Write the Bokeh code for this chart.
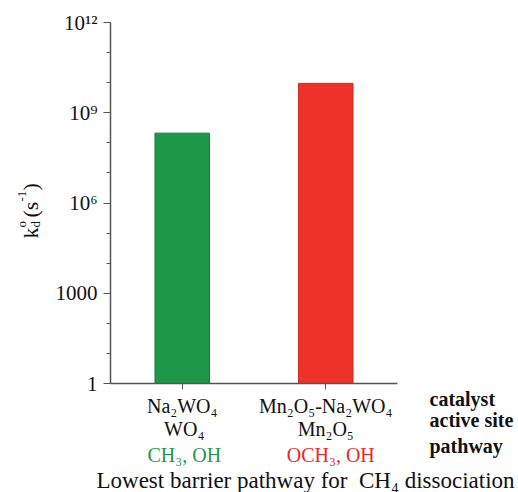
import math
from bokeh.plotting import figure
from bokeh.models import ColumnDataSource, FixedTicker, Label, Range1d
from bokeh.embed import file_html
from bokeh.resources import INLINE

# ---- data ----
catalysts = ["Na₂WO₄", "Mn₂O₅-Na₂WO₄"]
active_sites = ["WO₄", "Mn₂O₅"]
pathways = ["CH₃, OH", "OCH₃, OH"]
rates = [2.1e8, 9.5e9]
bar_colors = ["#1f9748", "#ee3229"]
bar_edges = ["#1b7d3c", "#c92c25"]
text_colors = ["#1f9748", "#e8282a"]
row_names = ["catalyst", "active site", "pathway"]
y_ticks = [1, 1000, 1000000, 1000000000, 1000000000000]
y_tick_labels = ["1", "1000", "10⁶", "10⁹", "10¹²"]
y_minor = [10 ** k for k in range(13)]
x_title = "Lowest barrier pathway for \u00a0CH₄ dissociation"

SERIF = "Liberation Serif"
AX = "#555555"

W, H = 518, 492
# axes box in page pixels
L, R, T, B = 110, 397, 22, 383
n = len(catalysts)
xpos = [i + 0.5 for i in range(n)]
ymin, ymax = 1, 1e12

# the plotting frame covers the whole canvas; axes are pinned at (0, 1)
ux = (R - L) / n
dec = (B - T) / math.log10(ymax / ymin)
x_range = Range1d(-L / ux, (W - L) / ux)
y_range = Range1d(10 ** (-(H - B) / dec), 10 ** (12 + T / dec))

p = figure(width=W, height=H, x_range=x_range, y_range=y_range, y_axis_type="log",
           output_backend="svg", toolbar_location=None, min_border=0)
p.outline_line_color = None
p.xgrid.visible = False
p.ygrid.visible = False

src = ColumnDataSource(dict(x=xpos, top=rates, fill=bar_colors, edge=bar_edges))
p.vbar(x="x", top="top", bottom=ymin, width=0.38, source=src, fill_color="fill",
       line_color="edge", line_width=1)

# axes
p.yaxis.fixed_location = 0
p.yaxis.bounds = (ymin, ymax)
p.yaxis.ticker = FixedTicker(ticks=y_ticks, minor_ticks=y_minor)
p.yaxis.major_label_overrides = {t: s for t, s in zip(y_ticks, y_tick_labels)}
p.yaxis.major_label_text_font = SERIF
p.yaxis.major_label_text_font_size = "21px"
p.yaxis.major_label_text_color = "#111111"
p.yaxis.major_label_standoff = 6
p.yaxis.axis_line_color = AX
p.yaxis.axis_line_width = 1.5
p.yaxis.major_tick_line_color = AX
p.yaxis.major_tick_line_width = 1.2
p.yaxis.major_tick_out = 7
p.yaxis.major_tick_in = 0
p.yaxis.minor_tick_line_color = AX
p.yaxis.minor_tick_out = 4
p.yaxis.minor_tick_in = 0

p.xaxis.fixed_location = ymin
p.xaxis.bounds = (0, n)
p.xaxis.ticker = FixedTicker(ticks=xpos, minor_ticks=[])
p.xaxis.major_label_overrides = {x: c for x, c in zip(xpos, catalysts)}
p.xaxis.axis_line_color = AX
p.xaxis.axis_line_width = 1.5
p.xaxis.major_tick_line_color = AX
p.xaxis.major_tick_out = 6
p.xaxis.major_tick_in = 0
p.xaxis.minor_tick_line_color = None
p.xaxis.major_label_text_font = SERIF
p.xaxis.major_label_text_font_size = "20px"
p.xaxis.major_label_text_color = "#111111"
p.xaxis.major_label_standoff = 5


def lab(x, y, text, xo=0, yo=0, size="20px", color="#111111", align="center",
        baseline="middle", style="normal", angle=0.0):
    p.add_layout(Label(x=x, y=y, x_offset=xo, y_offset=yo, text=text, text_font=SERIF,
                       text_font_size=size, text_color=color, text_align=align,
                       text_baseline=baseline, text_font_style=style, angle=angle))


# y axis label (rotated): k_d^o (s^-1)
A = math.pi / 2
base_x = -80
lab(0, ymin, "k", xo=base_x, yo=145, size="22px", align="left", baseline="alphabetic", angle=A)
lab(0, ymin, "o", xo=base_x - 9, yo=156, size="13px", align="left", baseline="alphabetic", angle=A)
lab(0, ymin, "d", xo=base_x + 5, yo=156, size="13px", align="left", baseline="alphabetic", angle=A)
lab(0, ymin, "(s", xo=base_x, yo=166, size="22px", align="left", baseline="alphabetic", angle=A)
lab(0, ymin, "-1", xo=base_x - 9, yo=182, size="13px", align="left", baseline="alphabetic", angle=A)
lab(0, ymin, ")", xo=base_x, yo=193, size="22px", align="left", baseline="alphabetic", angle=A)

# category labels (lines 2 and 3)
for i, (s, pw, col) in enumerate(zip(active_sites, pathways, text_colors)):
    lab(xpos[i], ymin, s, xo=(2 if i == 0 else 0), yo=-45)
    lab(xpos[i], ymin, pw, xo=(2 if i == 0 else 5), yo=-71, color=col)

# row names on the right
for j, name in enumerate(row_names):
    lab(n, ymin, name, xo=32, yo=[-15, -36, -62][j], size="20px", align="left", style="bold")

# bottom title
lab(0, ymin, x_title, xo=-14, yo=-97, size="23px", align="left")

open("out.html", "w").write(file_html(p, INLINE))
